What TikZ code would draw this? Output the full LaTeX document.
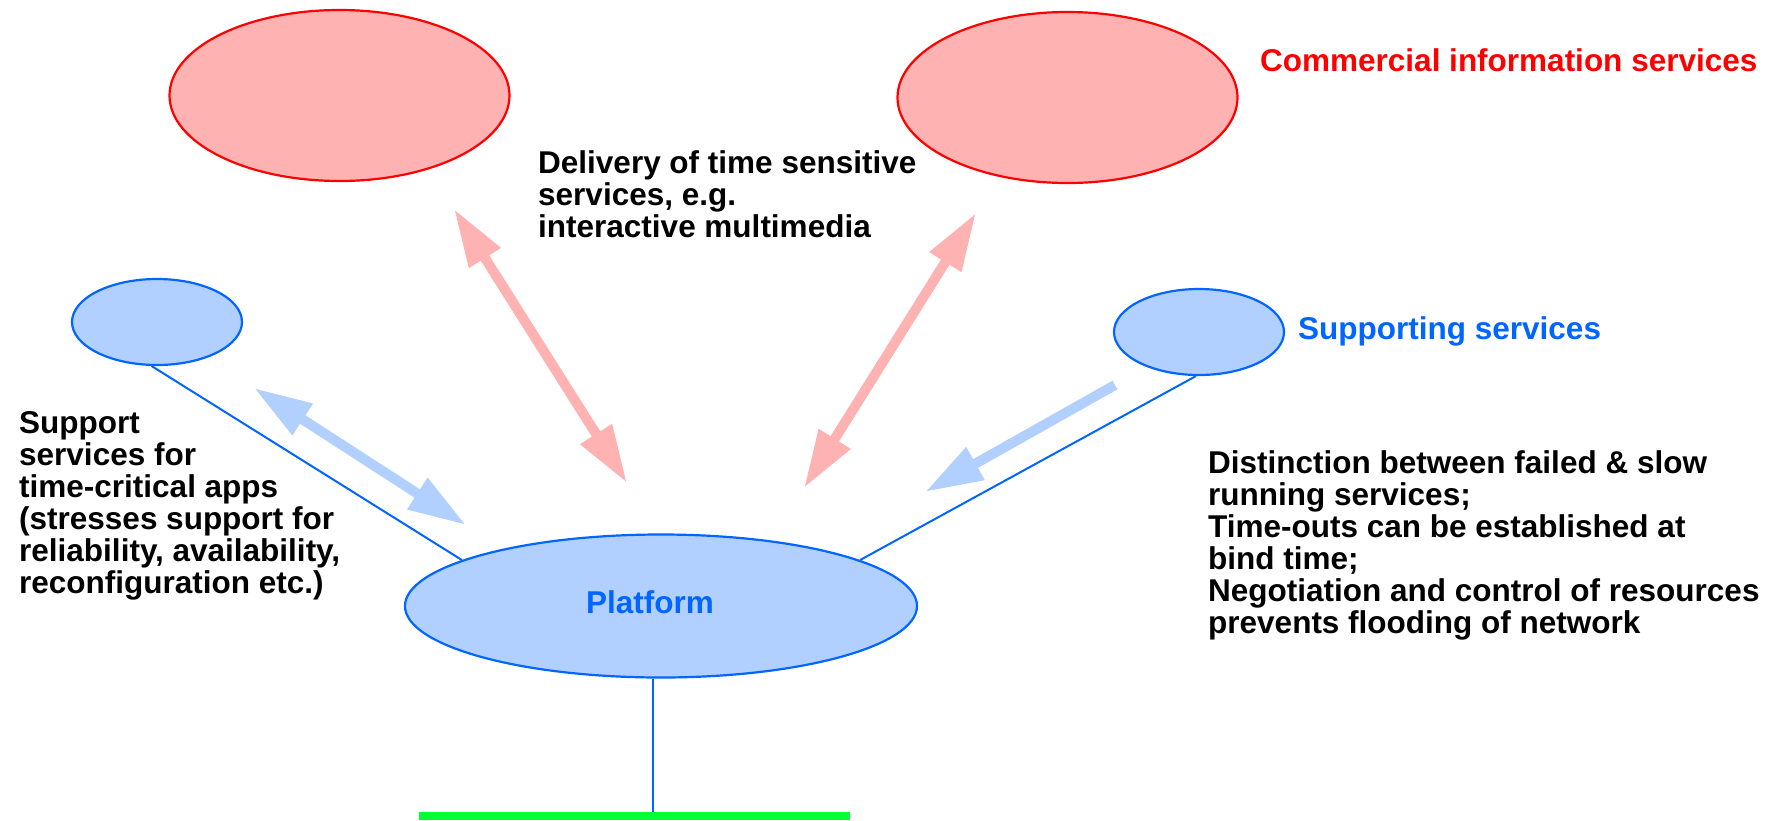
\documentclass[tikz,border=0pt]{standalone}
\usepackage{fontspec}
\setmainfont{Liberation Sans}
\usetikzlibrary{shapes.geometric,arrows.meta}

\begin{document}
\begin{tikzpicture}[x=1pt,y=-1pt]
  % Key Colors
  \definecolor{svcred}   {RGB}{255,0,0}
  \definecolor{svcpink}  {RGB}{255,178,178}
  \definecolor{svcblue}  {RGB}{0,102,255}
  \definecolor{svclight} {RGB}{178,208,255}
  \definecolor{busgreen} {RGB}{0,255,51}

  % Styles
  \tikzstyle{commercial}=[ellipse,draw=svcred,fill=svcpink,line width=2.2pt,minimum width=340pt,minimum height=171pt]
  \tikzstyle{support}=[ellipse,draw=svcblue,fill=svclight,line width=2.2pt,minimum width=170pt,minimum height=86pt]
  \tikzstyle{link}=[svcblue,line width=2pt]
  \tikzstyle{fat arrow}=[line width=10pt,-{Triangle[length=58pt,width=35pt]}]
  \tikzstyle{fat double}=[line width=10pt,{Triangle[length=58pt,width=35pt]}-{Triangle[length=58pt,width=35pt]}]
  \tikzstyle{label text}=[font=\fontsize{31.5}{32}\selectfont\bfseries,inner sep=0pt,align=left]

  \useasboundingbox (0,0) rectangle (1786,820);

  % Services
  \node[commercial] (comL) at (339.5,95.5)  {};
  \node[commercial] (comR) at (1067.5,97.5) {};
  \node[support]    (supL) at (157,322)     {};
  \node[support]    (supR) at (1199,332)    {};
  \node[support,minimum width=512pt,minimum height=143pt] (plat) at (661,606) {};
  \node[fill=busgreen,inner sep=0pt,minimum width=431pt,minimum height=8pt] (bus) at (634.5,816) {};

  % Links
  \draw[link] (supL.263) -- (plat.167);
  \draw[link] (supR.266) -- (plat.13);
  \draw[link] (plat.264) -- (plat.264 |- bus.north);

  % Key Points
  \coordinate (pinkLa) at (627,483);
  \coordinate (pinkLb) at (454,209);
  \coordinate (pinkRa) at (804,488);
  \coordinate (pinkRb) at (976,213);
  \coordinate (blueLa) at (254,388);
  \coordinate (blueLb) at (466,525);
  \coordinate (blueRa) at (1115,385);
  \coordinate (blueRb) at (925,492);

  % Arrows
  \draw[fat double,svcpink]  (pinkLa) -- (pinkLb);
  \draw[fat double,svcpink]  (pinkRa) -- (pinkRb);
  \draw[fat double,svclight] (blueLa) -- (blueLb);
  \draw[fat arrow,svclight]  (blueRa) -- (blueRb);

  % Texts (multi-line blocks sit on their last baseline)
  \node[label text,svcblue,anchor=base] (platname) at (650,613) {Platform};
  \node[label text,svcred,anchor=base west]  (comname) at (1260,71)  {Commercial information services};
  \node[label text,svcblue,anchor=base west] (supname) at (1298,339) {Supporting services};
  \node[label text,anchor=base west] (delivery) at (538,237)
    {Delivery of time sensitive\\services, e.g.\\interactive multimedia};
  \node[label text,anchor=base west] (critical) at (19,593)
    {Support\\services for\\time-critical apps\\(stresses support for\\reliability, availability,\\reconfiguration etc.)};
  \node[label text,anchor=base west] (distinct) at (1208,633)
    {Distinction between failed \& slow\\running services;\\Time-outs can be established at\\bind time;\\Negotiation and control of resources\\prevents flooding of network};
\end{tikzpicture}
\end{document}
